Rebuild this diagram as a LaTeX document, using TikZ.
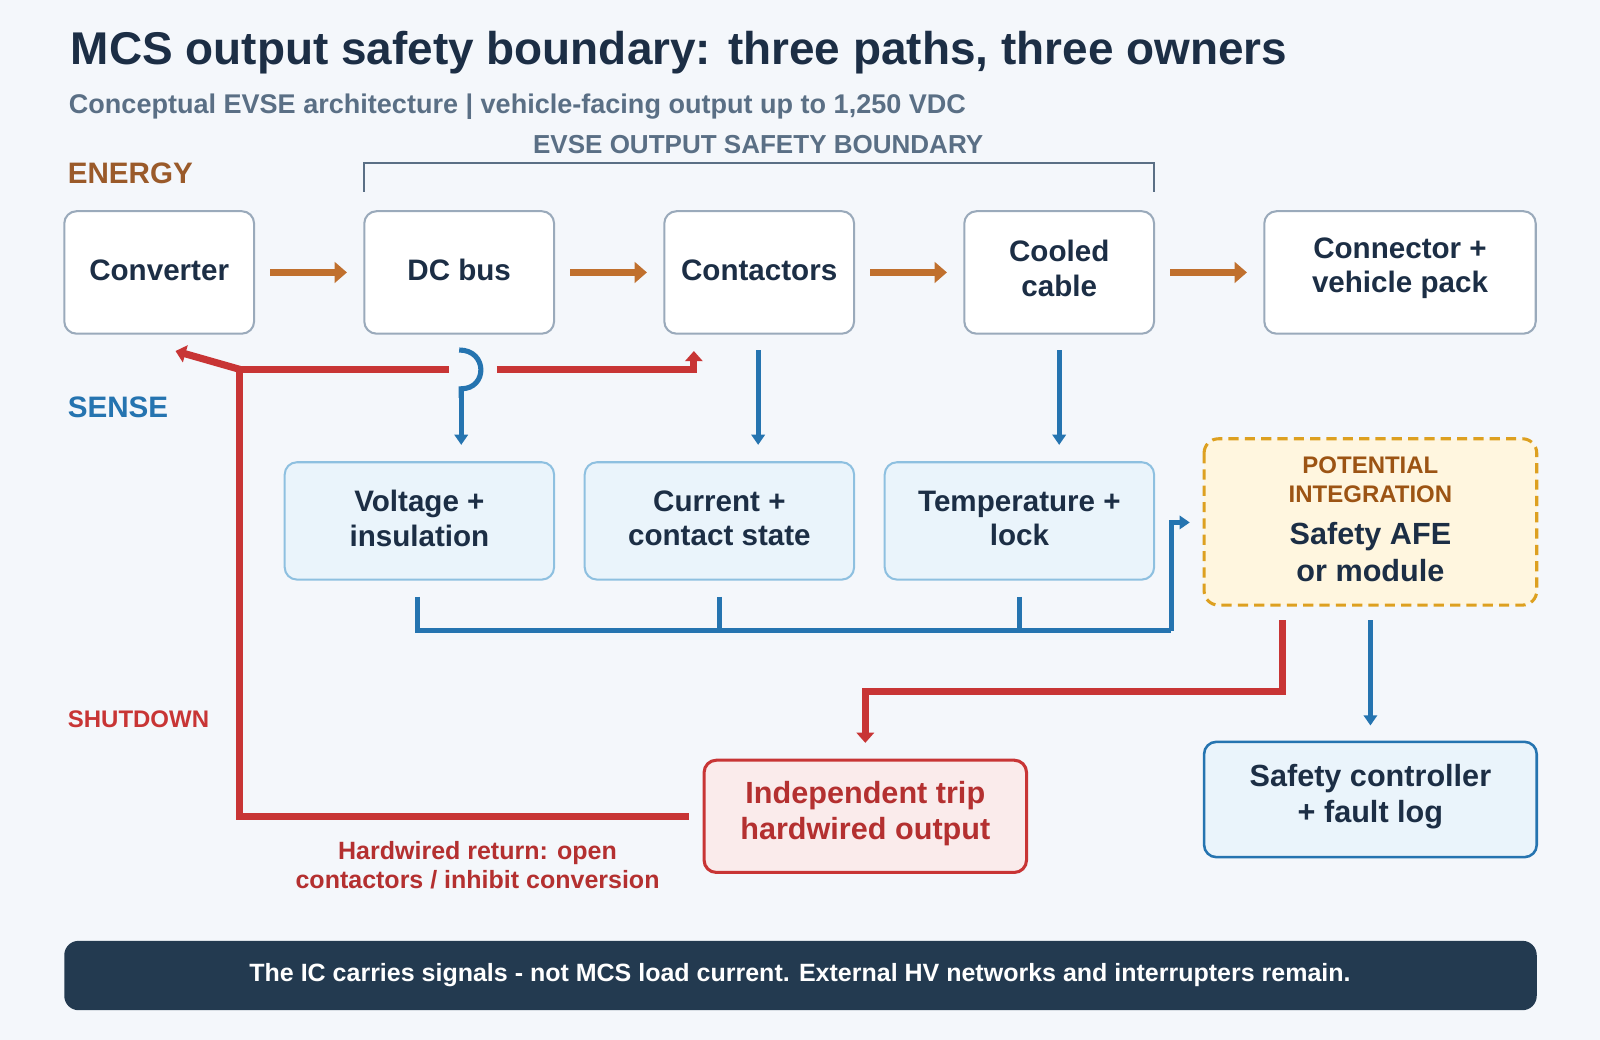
\documentclass[tikz,border=0pt]{standalone}
\usepackage{fontspec}
\setmainfont{Liberation Sans}
\usetikzlibrary{arrows.meta}
\definecolor{navy}{HTML}{1C2E45}
\definecolor{grayt}{HTML}{5A6F85}
\definecolor{brn}{HTML}{C0702E}
\definecolor{brnt}{HTML}{9A5A2A}
\definecolor{blu}{HTML}{2574B0}
\definecolor{rd}{HTML}{C83535}
\definecolor{bg}{HTML}{F4F7FB}
\definecolor{ebd}{HTML}{9AAABB}
\definecolor{sfill}{HTML}{EAF4FB}
\definecolor{sbd}{HTML}{8EC0E0}
\definecolor{afill}{HTML}{FFF6DF}
\definecolor{abd}{HTML}{DDA020}
\definecolor{foot}{HTML}{233A50}
\newcommand{\fs}[2]{\fontsize{#1}{#2}\selectfont\bfseries}
\begin{document}
\begin{tikzpicture}[x=1pt,y=-1pt,
 ebox/.style={draw=ebd,line width=2pt,fill=white,rounded corners=12pt},
 sbox/.style={draw=sbd,line width=2pt,fill=sfill,rounded corners=12pt},
 bt/.style={text=navy,font=\fs{29}{34},align=center},
 earr/.style={brn,line width=7pt,-{Triangle[length=12pt,width=20pt]}},
 barr/.style={blu,line width=5pt,-{Triangle[length=10pt,width=13pt]}},
 bl/.style={blu,line width=5pt},
 rl/.style={rd,line width=7pt},
 rarr/.style={rd,line width=7pt,-{Triangle[length=10pt,width=17pt]}},
 lab/.style={anchor=west,font=\fs{29}{34}}]
\fill[bg] (0,0) rectangle (1568,1019);
\node[anchor=west,text=navy,font=\fs{45}{50}] (title) at (66,52) {MCS output safety boundary: three paths, three owners};
\node[anchor=west,text=grayt,font=\fs{26.5}{30}] (sub) at (64,105) {Conceptual EVSE architecture | vehicle-facing output up to 1,250 VDC};
\node[text=grayt,font=\fs{25.5}{30}] (bnd) at (743,142) {EVSE OUTPUT SAFETY BOUNDARY};
\draw[grayt,line width=2pt] (357,188) -- (357,160) -- (1131,160) -- (1131,188);
\node[lab,text=brnt] (en) at (63,170) {ENERGY};
\node[lab,text=blu] (se) at (63,399) {SENSE};
\node[anchor=west,text=rd,font=\fs{23.5}{28}] (sd) at (63,705) {SHUTDOWN};
\path[ebox] (63,207) rectangle (249,327); \node[bt] (conv) at (156,265) {Converter};
\path[ebox] (357,207) rectangle (543,327); \node[bt] (bus) at (450,265) {DC bus};
\path[ebox] (651,207) rectangle (837,327); \node[bt] (cont) at (744,265) {Contactors};
\path[ebox] (945,207) rectangle (1131,327); \node[bt] (cab) at (1038,263) {Cooled\\cable};
\path[ebox] (1239,207) rectangle (1505,327); \node[bt] (conn) at (1372,263) {Connector +\\vehicle pack};
\draw[earr] (265,267) -- (340,267);
\draw[earr] (559,267) -- (634,267);
\draw[earr] (853,267) -- (928,267);
\draw[earr] (1147,267) -- (1222,267);
\path[sbox] (279,453) rectangle (543,568); \node[bt] (vi) at (411,508) {Voltage +\\insulation};
\path[sbox] (573,453) rectangle (837,568); \node[bt] (ci) at (705,508) {Current +\\contact state};
\path[sbox] (867,453) rectangle (1131,568); \node[bt] (ti) at (999,508) {Temperature +\\lock};
\path[draw=abd,dash pattern=on 10pt off 6pt,line width=3pt,fill=afill,rounded corners=14pt] (1180,430) rectangle (1506,593);
\node[text=brnt!60!orange!80!black,font=\fs{23.5}{28},align=center] (pot) at (1343,470) {POTENTIAL\\INTEGRATION};
\node[text=navy,font=\fs{30}{36},align=center] (afe) at (1343,541) {Safety AFE\\or module};
\path[draw=blu,line width=2.5pt,fill=sfill,rounded corners=12pt] (1180,727) rectangle (1506,840);
\node[bt,font=\fs{30}{35}] (sc) at (1343,781) {Safety controller\\+ fault log};
\path[draw=rd,line width=3pt,fill=rd!10,rounded corners=12pt] (690,745) rectangle (1006,855);
\node[text=rd!90!black,font=\fs{30}{35},align=center] (trip) at (848,797) {Independent trip\\hardwired output};
% blue
\draw[bl] (450,343) .. controls (478,343) and (478,381) .. (452,381) -- (452,390);
\draw[barr] (452,388) -- (452,436);
\draw[barr] (743,343) -- (743,436);
\draw[barr] (1038,343) -- (1038,436);
\draw[bl] (409,585) -- (409,618) -- (1148,618);
\draw[bl] (705,585) -- (705,618);
\draw[bl] (999,585) -- (999,618);
\draw[barr] (1148,618) -- (1148,512) -- (1166,512);
\draw[barr] (1343,608) -- (1343,711);
% red
\draw[rl] (675,800) -- (235,800) -- (235,362) -- (440,362);
\draw[rarr] (235,362) -- (172,344);
\draw[rarr] (487,362) -- (680,362) -- (680,344);
\draw[rarr] (1257,608) -- (1257,678) -- (848,678) -- (848,728);
\node[text=rd!90!black,font=\fs{24.5}{29},align=center] (hw) at (468,848) {Hardwired return: open\\contactors / inhibit conversion};
\path[fill=foot,rounded corners=14pt] (63,922) rectangle (1506,990);
\node[text=white,font=\fs{24.5}{28}] (ft) at (784,956) {The IC carries signals - not MCS load current. External HV networks and interrupters remain.};
\end{tikzpicture}
\end{document}
